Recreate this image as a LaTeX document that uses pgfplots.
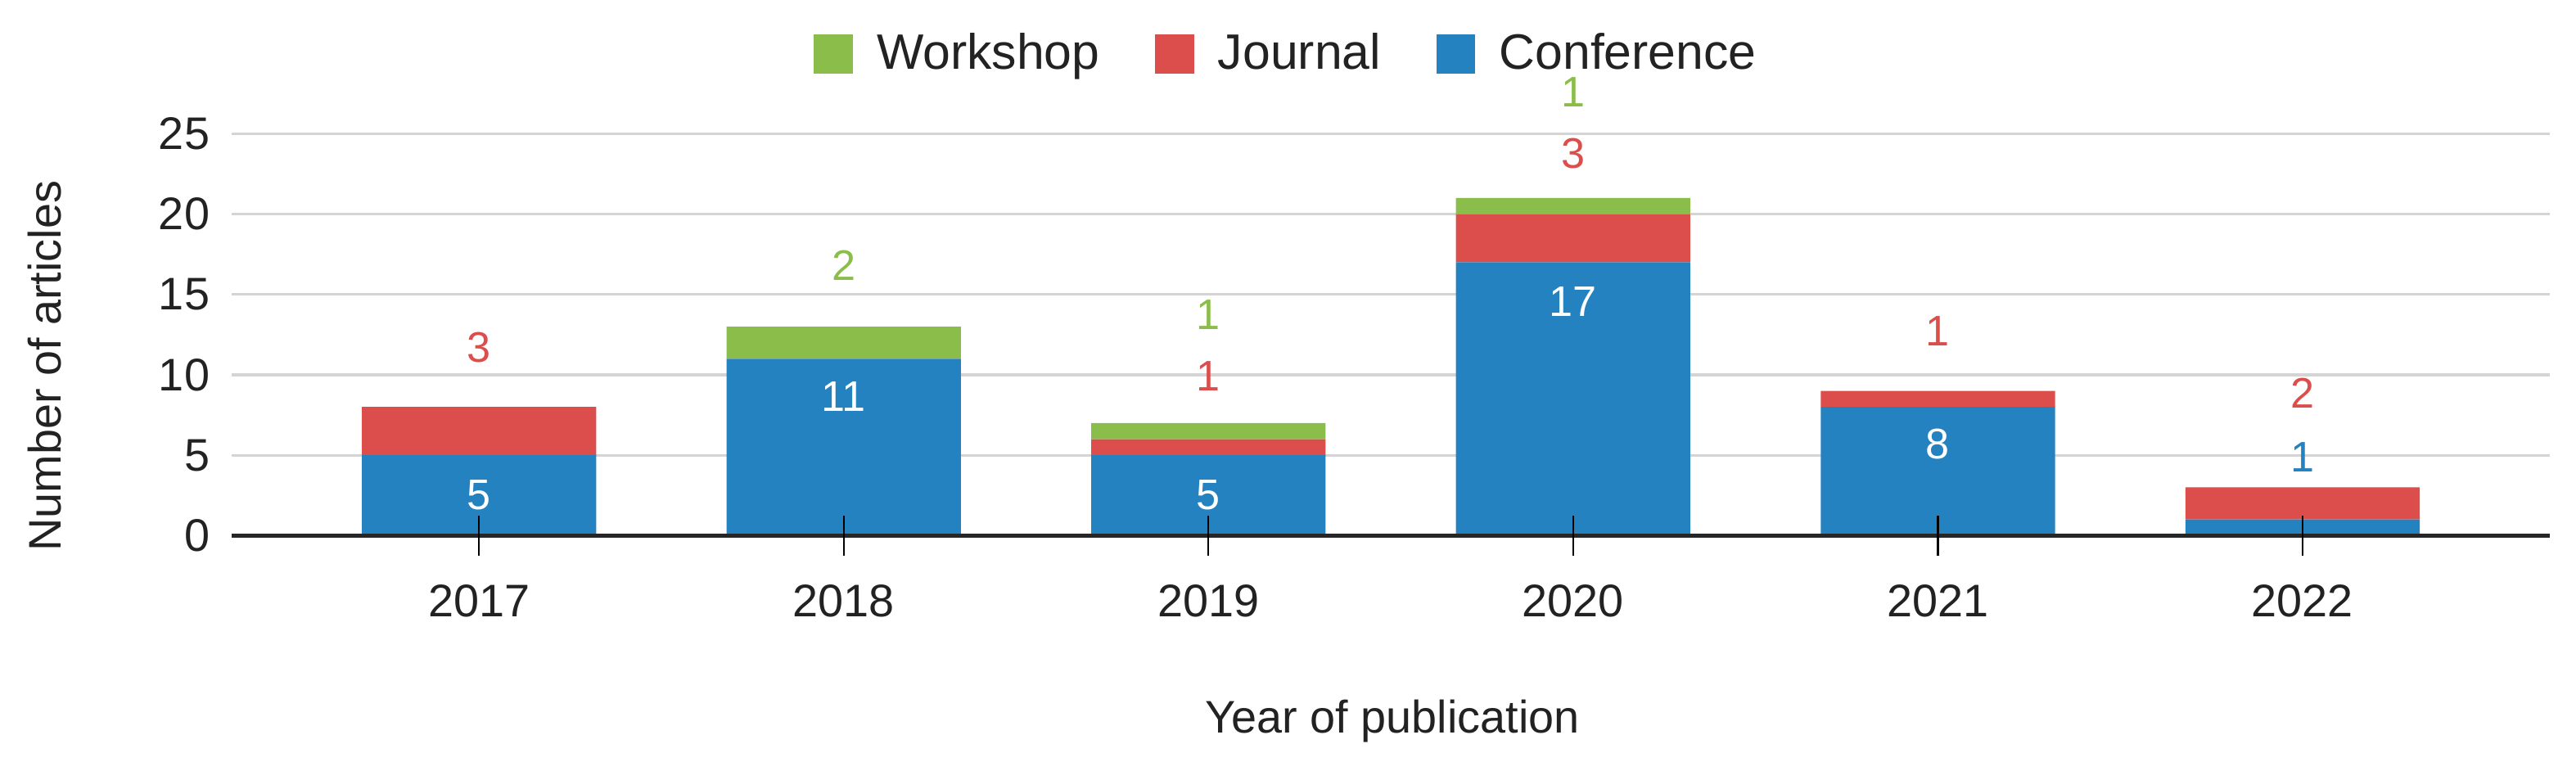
\documentclass[border=0pt]{standalone}
\usepackage{pgfplots}
\pgfplotsset{compat=1.18}
\usepackage{fontspec}
\setmainfont{Liberation Sans}
\definecolor{cblue}{HTML}{2482C0}
\definecolor{cred}{HTML}{DC4E4B}
\definecolor{cgreen}{HTML}{8BBD4B}
\definecolor{ctext}{HTML}{222222}
\definecolor{cgrid}{HTML}{D4D4D4}
\tikzset{lbl/.style={font=\fontsize{11.6}{13}\selectfont}}
\begin{document}
\begin{tikzpicture}
\path[use as bounding box] (-62.9pt,-61.3pt) rectangle (636.4pt,145.4pt);
\begin{axis}[
  at={(0pt,0pt)}, anchor=south west,
  scale only axis, width=629.3pt, height=109.1pt,
  xmin=-0.678, xmax=5.678, ymin=0, ymax=25,
  clip=false,
  ybar stacked, bar width=63.6pt,
  xtick={0,...,5}, xticklabels={2017,2018,2019,2020,2021,2022},
  ytick={0,5,10,15,20,25}, yticklabels={0,5,10,15,20,25},
  ticklabel style={font=\fontsize{12.4}{14}\selectfont, text=ctext},
  xticklabel style={anchor=base, yshift=-22pt},
  yticklabel style={anchor=east, inner sep=0pt, xshift=-5.8pt},
  ymajorgrids, major grid style={cgrid, line width=0.7pt},
  axis x line*=bottom, axis y line*=left,
  axis line style={draw=none},
  tick style={draw=none},
  xlabel={Year of publication},
  ylabel={Number of articles},
  label style={font=\fontsize{12.4}{14}\selectfont, text=ctext},
  xlabel style={at={(axis description cs:0.5007,-0.491)}, anchor=base},
  ylabel style={at={(axis description cs:-0.0806,0.4216)}, anchor=center},
  legend style={draw=none, fill=none, legend columns=-1,
    at={(0.4560,1.198)}, anchor=center,
    font=\fontsize{13.5}{15}\selectfont, text=ctext,
    nodes={inner ysep=0.5pt},
    /tikz/every odd column/.append style={column sep=4.5pt},
    /tikz/every even column/.append style={column sep=13pt}},
  legend image code/.code={\fill[#1] (0pt,-5.3pt) rectangle (10.6pt,5.3pt);},
]
\addlegendimage{fill=cgreen, draw=none}
\addlegendentry{Workshop}
\addlegendimage{fill=cred, draw=none}
\addlegendentry{Journal}
\addlegendimage{fill=cblue, draw=none}
\addlegendentry{Conference}
\addplot[fill=cblue, draw=none, forget plot] coordinates {(0,5) (1,11) (2,5) (3,17) (4,8) (5,1)};
\addplot[fill=cred, draw=none, forget plot] coordinates {(0,3) (1,0) (2,1) (3,3) (4,1) (5,2)};
\addplot[fill=cgreen, draw=none, forget plot] coordinates {(0,0) (1,2) (2,1) (3,1) (4,0) (5,0)};
\coordinate (xl) at (axis cs:-0.678,0);
\coordinate (xr) at (axis cs:5.678,0);
\coordinate (t0) at (axis cs:0,0);
\coordinate (t1) at (axis cs:1,0);
\coordinate (t2) at (axis cs:2,0);
\coordinate (t3) at (axis cs:3,0);
\coordinate (t4) at (axis cs:4,0);
\coordinate (t5) at (axis cs:5,0);
\coordinate (w0) at (axis cs:0,2.5);
\coordinate (w1) at (axis cs:1,8.66);
\coordinate (w2) at (axis cs:2,2.5);
\coordinate (w3) at (axis cs:3,14.55);
\coordinate (w4) at (axis cs:4,5.7);
\node[lbl, text=cblue] at (axis cs:5,4.9) {1};
\node[lbl, text=cred] at (axis cs:0,11.7) {3};
\node[lbl, text=cred] at (axis cs:2,9.9) {1};
\node[lbl, text=cred] at (axis cs:3,23.75) {3};
\node[lbl, text=cred] at (axis cs:4,12.7) {1};
\node[lbl, text=cred] at (axis cs:5,8.86) {2};
\node[lbl, text=cgreen] at (axis cs:1,16.8) {2};
\node[lbl, text=cgreen] at (axis cs:2,13.75) {1};
\node[lbl, text=cgreen, inner sep=0.5pt] at (axis cs:3,27.6) {1};
\end{axis}
\draw[line width=1pt, black!85] (xl) -- (xr);
\foreach \t in {t0,t1,t2,t3,t4,t5}{\draw[black, line width=0.5pt] ([yshift=-5.5pt]\t) -- ([yshift=5.5pt]\t);}
\node[lbl, text=white] at (w0) {5};
\node[lbl, text=white] at (w1) {11};
\node[lbl, text=white] at (w2) {5};
\node[lbl, text=white] at (w3) {17};
\node[lbl, text=white] at (w4) {8};
\end{tikzpicture}
\end{document}
